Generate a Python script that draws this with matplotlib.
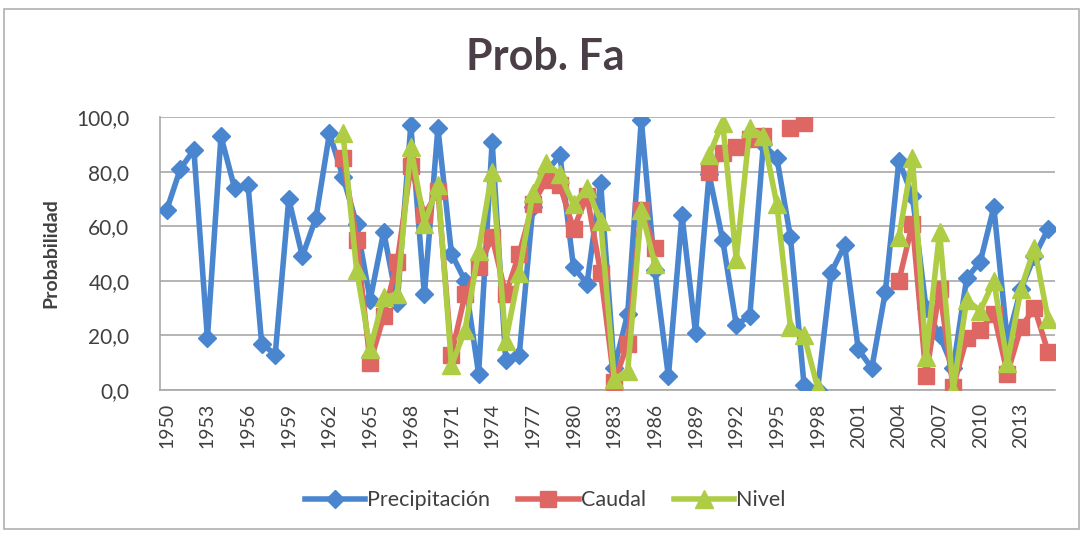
import numpy as np
import matplotlib
matplotlib.use('Agg')
import matplotlib.pyplot as plt
from matplotlib.patches import Rectangle

plt.rcParams['font.family'] = ['Lato', 'DejaVu Sans']

nan = np.nan

# Años (1950 - 2015)
years = list(range(1950, 2016))

# Probabilidad - Precipitación
precip = [66, 81, 88, 19, 93, 74, 75, 17, 13, 70,
          49, 63, 94, 78, 61, 33, 58, 32, 97, 35,
          96, 50, 40, 6, 91, 11, 13, 67, 80, 86,
          45, 39, 76, 8, 28, 99, 44, 5, 64, 21,
          79, 55, 24, 27, 90, 85, 56, 2, 0, 43,
          53, 15, 8, 36, 84, 71, 30, 20, 8, 41,
          47, 67, 18, 37, 49, 59]

# Probabilidad - Caudal (sin datos antes de 1963 y en algunos años)
caudal = [nan] * 13 + [85, 55, 10, 27, 47, 82, 64,
                       73, 13, 35, 45, 56, 35, 50, 68, 77, 75,
                       59, 71, 43, 3, 17, 66, 52, nan, nan, nan,
                       80, 87, 89, 92, 93, nan, 96, 98, nan, nan,
                       nan, nan, nan, nan, 40, 61, 5, 37, 1, 19,
                       22, 28, 6, 23, 30, 14]

# Probabilidad - Nivel
nivel = [nan] * 13 + [94, 44, 15, 34, 35, 89, 61,
                      75, 9, 22, 51, 80, 18, 43, 72, 83, 79,
                      68, 74, 62, 4, 7, 66, 46, nan, nan, nan,
                      86, 98, 48, 96, 93, 68, 23, 20, 1, nan,
                      nan, nan, nan, nan, 56, 85, 12, 58, 0, 33,
                      29, 40, 10, 37, 52, 26]

tick_years = list(range(1950, 2016, 3))
yticks = [0, 20, 40, 60, 80, 100]

c_blue = '#4A86CF'
c_red = '#DE6764'
c_green = '#AFCC45'
c_text = '#404040'

fig = plt.figure(figsize=(10.86, 5.37), dpi=100)
ax = fig.add_axes([0.1473, 0.2737, 0.824, 0.5083])

# borde del gráfico
fig.patches.append(Rectangle((0.004, 0.015), 0.990, 0.968, transform=fig.transFigure,
                             fill=False, edgecolor='#B0B0B0', linewidth=1.2))

ax.plot(years, precip, color=c_blue, lw=4, marker='D', ms=9.5,
        mec=c_blue, mfc=c_blue, label='Precipitación', zorder=3)
ax.plot(years, caudal, color=c_red, lw=4, marker='s', ms=11.5,
        mec=c_red, mfc=c_red, label='Caudal', zorder=4)
ax.plot(years, nivel, color=c_green, lw=4, marker='^', ms=12.5,
        mec=c_green, mfc=c_green, label='Nivel', zorder=5)

ax.set_xlim(1949.5, 2015.5)
ax.set_ylim(0, 100)
ax.set_yticks(yticks)
ax.set_yticklabels([f'{v:.1f}'.replace('.', ',') for v in yticks],
                   fontsize=15, color=c_text)
ax.set_xticks(tick_years)
ax.set_xticklabels([str(y) for y in tick_years], rotation=90,
                   fontsize=14, color=c_text)
ax.tick_params(axis='y', length=0, pad=22)
ax.tick_params(axis='x', length=0, pad=9)
ax.grid(axis='y', color='#A8A8A8', linewidth=1.2)
ax.set_axisbelow(True)
for s in ['top', 'right']:
    ax.spines[s].set_visible(False)
for s in ['left', 'bottom']:
    ax.spines[s].set_color('#A8A8A8')
    ax.spines[s].set_linewidth(1.2)

ax.set_ylabel('Probabilidad', fontsize=14, fontweight='bold', color=c_text, labelpad=12)
fig.text(0.502, 0.893, 'Prob. Fa', ha='center', va='center', fontsize=31,
         fontweight='bold', color='#4A3F47')

fig.legend(loc='center', bbox_to_anchor=(0.502, 0.068), ncol=3, frameon=False,
           fontsize=15.5, handlelength=2.8, columnspacing=1.3, handletextpad=0.1,
           labelcolor=c_text)

fig.savefig('out.png', dpi=100)
